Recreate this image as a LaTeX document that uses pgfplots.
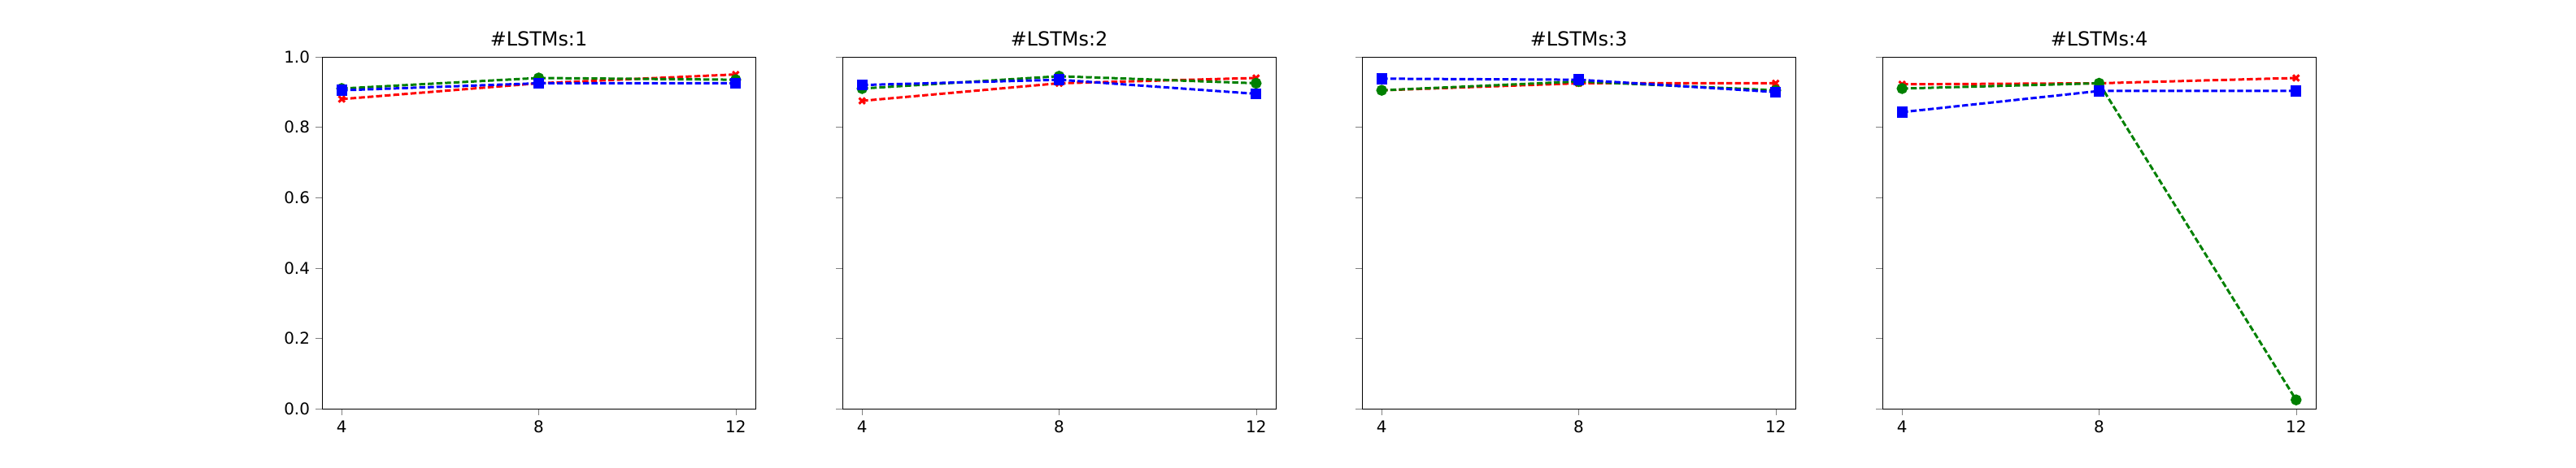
\documentclass[border=0pt]{standalone}
\usepackage{pgfplots}
\pgfplotsset{compat=1.18}
\usepackage{fontspec}
\setmainfont{DejaVu Sans}
\definecolor{mgreen}{rgb}{0,0.5,0}
\pgfplotsset{panel/.style={
  scale only axis, width=266.5bp, height=216.5bp,
  xmin=3.6, xmax=12.4, ymin=0, ymax=1,
  xtick={4,8,12}, ytick={0,0.2,...,1.0},
  tick align=outside, tick pos=left,
  major tick length=4bp,
  yticklabel style={/pgf/number format/.cd,fixed,fixed zerofill,precision=1},
  /pgf/number format/assume math mode=true,
  tick label style={font=\fontsize{10}{12}\selectfont},
  title style={font=\fontsize{12}{14}\selectfont, yshift=-3bp},
  every axis plot/.append style={dash pattern=on 3.7bp off 1.6bp, line width=1.5bp, mark size=2.6bp, mark options={solid}},
  anchor=south west},
 r/.style={red, mark=x}, g/.style={mgreen, mark=*}, b/.style={blue, mark=square*}}
\begin{document}
\begin{tikzpicture}
\path (0,0) rectangle (1584bp,288bp);
\begin{axis}[panel, at={(198bp,36.5bp)}, title={\#LSTMs:1}]
\addplot[r] coordinates {(4,0.88)(8,0.925)(12,0.95)};
\addplot[g] coordinates {(4,0.91)(8,0.94)(12,0.935)};
\addplot[b] coordinates {(4,0.905)(8,0.925)(12,0.925)};
\end{axis}
\begin{axis}[panel, at={(518bp,36.5bp)}, title={\#LSTMs:2}, yticklabels={}]
\addplot[r] coordinates {(4,0.875)(8,0.925)(12,0.94)};
\addplot[g] coordinates {(4,0.91)(8,0.945)(12,0.925)};
\addplot[b] coordinates {(4,0.92)(8,0.935)(12,0.895)};
\end{axis}
\begin{axis}[panel, at={(837.5bp,36.5bp)}, title={\#LSTMs:3}, yticklabels={}]
\addplot[r] coordinates {(4,0.905)(8,0.925)(12,0.925)};
\addplot[g] coordinates {(4,0.905)(8,0.93)(12,0.905)};
\addplot[b] coordinates {(4,0.938)(8,0.935)(12,0.90)};
\end{axis}
\begin{axis}[panel, at={(1157.5bp,36.5bp)}, title={\#LSTMs:4}, yticklabels={}]
\addplot[r] coordinates {(4,0.922)(8,0.925)(12,0.94)};
\addplot[g] coordinates {(4,0.91)(8,0.925)(12,0.025)};
\addplot[b] coordinates {(4,0.843)(8,0.903)(12,0.903)};
\end{axis}
\end{tikzpicture}
\end{document}
